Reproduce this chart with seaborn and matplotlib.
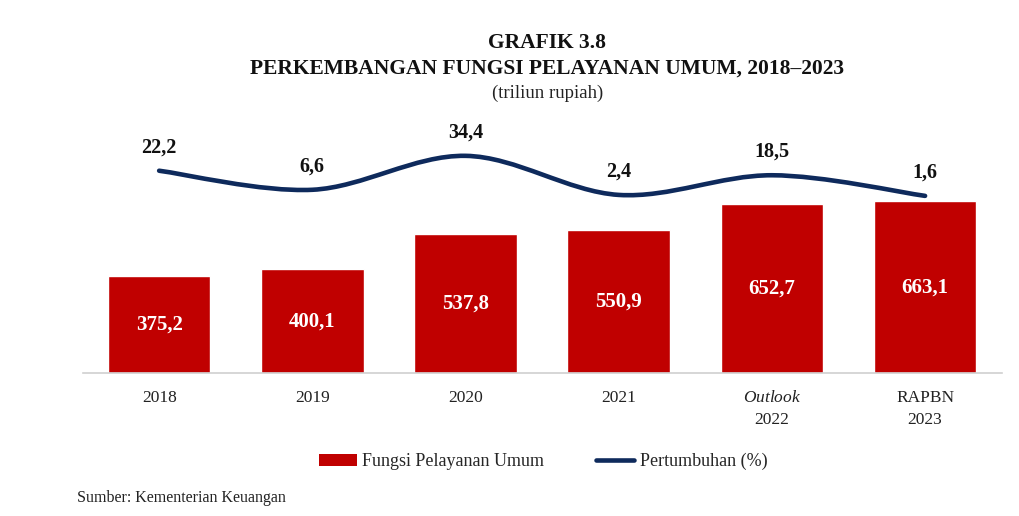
import numpy as np
import pandas as pd
import matplotlib
matplotlib.use("Agg")
import matplotlib.pyplot as plt
import seaborn as sns
from matplotlib.path import Path
from matplotlib.patches import PathPatch, Patch
from matplotlib.lines import Line2D

# data
categories = ["2018", "2019", "2020", "2021", "Outlook 2022", "RAPBN 2023"]
tick_labels = ["2018", "2019", "2020", "2021", "$\\it{Outlook}$\n2022", "RAPBN\n2023"]
belanja = [375.2, 400.1, 537.8, 550.9, 652.7, 663.1]
pertumbuhan = [22.2, 6.6, 34.4, 2.4, 18.5, 1.6]

RED = "#C00000"
NAVY = "#0E2A5C"

sns.set_theme(style="white")
plt.rcParams["font.family"] = ["Liberation Serif", "DejaVu Serif"]
plt.rcParams["mathtext.fontset"] = "custom"
plt.rcParams["mathtext.it"] = "Liberation Serif:italic"
plt.rcParams["mathtext.rm"] = "Liberation Serif"

def fmt(v):
    return f"{v:.1f}".replace(".", ",")

fig = plt.figure(figsize=(10.19, 5.16), dpi=100)
ax = fig.add_axes([0.081, 0.277, 0.902, 0.452])

df = pd.DataFrame({"kategori": categories, "nilai": belanja})
sns.barplot(data=df, x="kategori", y="nilai", color=RED, saturation=1,
            width=0.67, ax=ax)
ax.set_xlim(-0.5, 5.5)
ax.set_ylim(0, 900)
ax.set_xlabel("")
ax.set_ylabel("")
ax.set_yticks([])
ax.set_xticks(range(len(categories)))
ax.set_xticklabels(tick_labels, fontsize=12.5, color="#222222", linespacing=1.5)
ax.tick_params(axis="x", length=0, pad=12)
for s in ["top", "right", "left"]:
    ax.spines[s].set_visible(False)
ax.spines["bottom"].set_color("#D0D0D0")
ax.spines["bottom"].set_linewidth(1.2)

for i, v in enumerate(belanja):
    ax.text(i, v / 2, fmt(v), ha="center", va="center", color="white",
            fontsize=15, fontweight="bold")

# growth line on secondary axis, smoothed like a spreadsheet chart
ax2 = ax.twinx()
ax2.set_ylim(-143.5, 47.5)
ax2.set_yticks([])
for s in ax2.spines.values():
    s.set_visible(False)

xs = np.arange(len(pertumbuhan), dtype=float)
ys = np.array(pertumbuhan, dtype=float)
pts = np.column_stack([xs, ys])
verts = [pts[0]]
codes = [Path.MOVETO]
for i in range(len(pts) - 1):
    p0 = pts[max(i - 1, 0)]
    p1 = pts[i]
    p2 = pts[i + 1]
    p3 = pts[min(i + 2, len(pts) - 1)]
    c1 = p1 + (p2 - p0) / 6
    c2 = p2 - (p3 - p1) / 6
    verts += [c1, c2, p2]
    codes += [Path.CURVE4] * 3
ax2.add_patch(PathPatch(Path(verts, codes), facecolor="none", edgecolor=NAVY,
                        lw=3.3, capstyle="round"))

for i, v in enumerate(pertumbuhan):
    ax2.annotate(fmt(v), (i, v), xytext=(0, 17), textcoords="offset points",
                 ha="center", va="center", fontsize=14.5, fontweight="bold",
                 color="#111111")

# titles
fig.text(0.537, 0.917, "GRAFIK 3.8", ha="center", va="center",
         fontsize=15.5, fontweight="bold", color="#111111")
fig.text(0.537, 0.868, "PERKEMBANGAN FUNGSI PELAYANAN UMUM, 2018\u20132023",
         ha="center", va="center", fontsize=15.5, fontweight="bold", color="#111111")
fig.text(0.537, 0.820, "(triliun rupiah)", ha="center", va="center",
         fontsize=13.5, color="#222222")

handles = [Patch(facecolor=RED, edgecolor="none"),
           Line2D([0], [0], color=NAVY, lw=3.3)]
fig.legend(handles, ["Fungsi Pelayanan Umum", "Pertumbuhan (%)"],
           loc="center", bbox_to_anchor=(0.533, 0.105), ncol=2, frameon=False,
           fontsize=13, handlelength=2.1, handletextpad=0.3,
           columnspacing=2.9)

fig.text(0.076, 0.035, "Sumber: Kementerian Keuangan", ha="left", va="center",
         fontsize=11.5, color="#222222")

fig.savefig("out.png", dpi=100, facecolor="white")
